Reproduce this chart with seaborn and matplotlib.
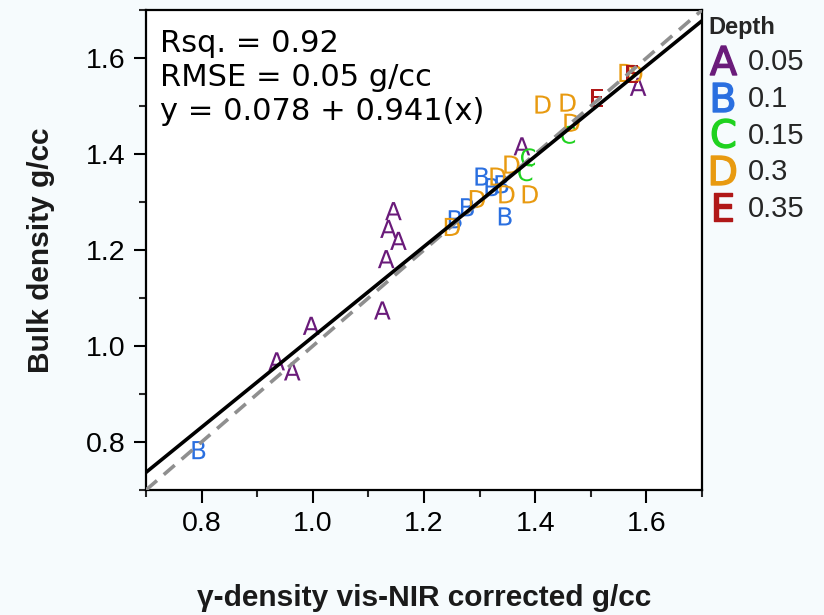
import numpy as np
import pandas as pd
import matplotlib
matplotlib.use("Agg")
import matplotlib.pyplot as plt
from matplotlib.ticker import MultipleLocator, FormatStrFormatter
import seaborn as sns

# ---- data ----
depths = ["0.05", "0.1", "0.15", "0.3", "0.35"]
letters = ["A", "B", "C", "D", "E"]
colors = ["#6a1b7a", "#2a6fe0", "#1fd21f", "#e89a10", "#b01818"]

A_x = [1.585, 1.376, 1.145, 1.136, 1.154, 1.132, 1.125, 0.997, 0.935, 0.963]
A_y = [1.540, 1.416, 1.281, 1.244, 1.219, 1.181, 1.074, 1.042, 0.968, 0.947]
B_x = [0.795, 1.304, 1.322, 1.340, 1.346, 1.278, 1.256]
B_y = [0.783, 1.353, 1.331, 1.337, 1.270, 1.289, 1.264]
C_x = [1.459, 1.387, 1.382]
C_y = [1.440, 1.393, 1.362]
D_x = [1.565, 1.579, 1.414, 1.459, 1.466, 1.358, 1.333, 1.349, 1.391, 1.296, 1.251]
D_y = [1.569, 1.567, 1.503, 1.507, 1.465, 1.378, 1.353, 1.316, 1.316, 1.306, 1.248]
E_x = [1.511, 1.574]
E_y = [1.517, 1.567]

intercept = 0.078
slope = 0.941
xlim = [0.7, 1.7]
ylim = [0.7, 1.7]
stats_text = "Rsq. = 0.92\nRMSE = 0.05 g/cc\ny = 0.078 + 0.941(x)"
xlabel = "γ-density vis-NIR corrected g/cc"
ylabel = "Bulk density g/cc"

xs = [A_x, B_x, C_x, D_x, E_x]
ys = [A_y, B_y, C_y, D_y, E_y]
df = pd.concat(
    [pd.DataFrame({"x": x, "y": y, "Depth": d}) for x, y, d in zip(xs, ys, depths)],
    ignore_index=True,
)

# ---- figure ----
sns.set_theme(style="white")
plt.rcParams["font.family"] = ["Liberation Sans", "DejaVu Sans"]
bg = "#f6fbfd"
fig = plt.figure(figsize=(8.24, 6.15), dpi=100, facecolor=bg)
ax = fig.add_axes([0.1772, 0.2033, 0.852 - 0.1772, 0.9837 - 0.2033])
ax.set_facecolor("white")

palette = dict(zip(depths, colors))
markers = {d: r"$\mathsf{%s}$" % l for d, l in zip(depths, letters)}
sns.scatterplot(data=df, x="x", y="y", hue="Depth", style="Depth",
                hue_order=depths, style_order=depths,
                palette=palette, markers=markers, s=170, linewidth=0,
                ax=ax, zorder=2)

# 1:1 line (dashed) and fitted line (solid)
lx = np.array(xlim)
ax.plot(lx, lx, color="#8f8f8f", lw=2.6, ls=(0, (4, 2.5)), zorder=3)
ax.plot(lx, intercept + slope * lx, color="black", lw=2.6, zorder=4)

ax.set_xlim(xlim)
ax.set_ylim(ylim)
ax.xaxis.set_major_locator(MultipleLocator(0.2))
ax.xaxis.set_minor_locator(MultipleLocator(0.1))
ax.yaxis.set_major_locator(MultipleLocator(0.2))
ax.yaxis.set_minor_locator(MultipleLocator(0.1))
ax.xaxis.set_major_formatter(FormatStrFormatter("%.1f"))
ax.yaxis.set_major_formatter(FormatStrFormatter("%.1f"))
ax.tick_params(which="major", direction="out", length=9, width=1.5,
               labelsize=20.5, pad=6, colors="black", bottom=True, left=True)
ax.tick_params(which="minor", direction="out", length=5, width=1.5,
               bottom=True, left=True)
for sp in ax.spines.values():
    sp.set_color("black")
    sp.set_linewidth(1.6)

ax.set_xlabel(xlabel, fontsize=21.5, fontweight="bold", labelpad=34, color="#1a1a1a")
ax.set_ylabel(ylabel, fontsize=21.5, fontweight="bold", labelpad=22, color="#1a1a1a")

ax.text(0.025, 0.96, stats_text, transform=ax.transAxes, ha="left", va="top",
        fontsize=22, family="DejaVu Sans", linespacing=1.22, color="black")

# legend
handles, labels = ax.get_legend_handles_labels()
leg = ax.legend(handles, labels, title="Depth", loc="upper left",
                bbox_to_anchor=(0.995, 1.005), frameon=False, markerscale=1.6,
                fontsize=21, title_fontsize=17, handletextpad=0.35,
                handlelength=1.0, labelspacing=0.3, borderaxespad=0.0,
                borderpad=0.3)
leg.get_title().set_fontweight("bold")
leg._legend_box.align = "left"
for h, c in zip(leg.legend_handles, colors):
    try:
        h.set_markeredgecolor(c)
        h.set_markeredgewidth(1.0)
    except AttributeError:
        h.set_edgecolor(c)
        h.set_linewidth(1.0)

fig.savefig("out.png", dpi=100, facecolor=bg)
